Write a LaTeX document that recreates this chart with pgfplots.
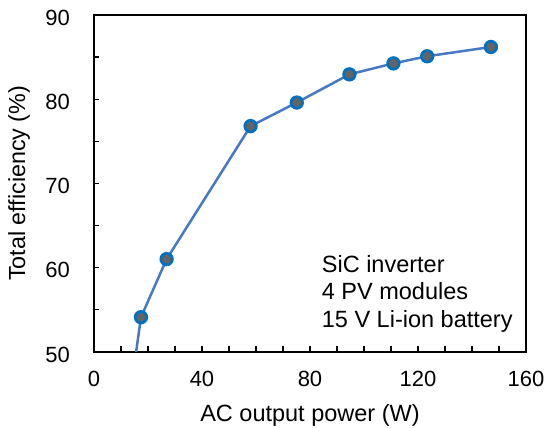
\documentclass[border=0pt]{standalone}
\usepackage{fontspec}
\setmainfont{Liberation Sans}
\usepackage{pgfplots}
\pgfplotsset{compat=1.18}
\definecolor{lineblue}{RGB}{70,120,195}
\definecolor{markblue}{RGB}{0,112,192}
\definecolor{markgray}{RGB}{100,100,100}
\begin{document}
\begin{tikzpicture}
\useasboundingbox (-94bp,-76.3bp) rectangle (450bp,351.7bp);
\begin{axis}[
  at={(0,0)}, anchor=south west,
  scale only axis, width=432bp, height=336.7bp,
  xmin=0, xmax=160, ymin=50, ymax=90,
  axis line style={line width=1.7bp, black},
  xtick={0,40,...,160}, minor xtick={10,20,...,150},
  ytick={50,60,...,90}, minor ytick={55,65,75,85},
  tick pos=left, tick align=inside,
  major tick length=5.5bp, minor tick length=5.5bp,
  every tick/.style={black, line width=1.3bp},
  ticklabel style={font=\fontsize{22bp}{26bp}\selectfont, /pgf/number format/assume math mode=true},
  xticklabel style={yshift=-16bp},
  yticklabel style={xshift=-20.7bp, yshift=-2.8bp},
  xlabel={AC output power (W)},
  xlabel style={at={(axis description cs:0.5,-0.2079)}, anchor=base, font=\fontsize{23.5bp}{27bp}\selectfont},
  ylabel={Total efficiency (\%)},
  ylabel style={at={(axis description cs:-0.1597,0.5)}, anchor=base, font=\fontsize{23.3bp}{27bp}\selectfont},
]
\addplot[lineblue, line width=2.5bp, mark=none] coordinates {
  (14,46.3) (17.4,54.1) (26.9,61.0) (58.0,76.8) (75.1,79.6) (94.6,82.95) (110.9,84.25) (123.4,85.1) (147,86.2)
};
\addplot[only marks, mark=*, mark size=5.8bp, mark options={draw=markblue, fill=markgray, line width=2.7bp}] coordinates {
  (17.4,54.1) (26.9,61.0) (58.0,76.8) (75.1,79.6) (94.6,82.95) (110.9,84.25) (123.4,85.1) (147,86.2)
};
\node[anchor=north west, inner sep=0pt, align=left, font=\fontsize{23.5bp}{27.5bp}\selectfont] at (axis cs:84.33,61.49) {SiC inverter\\4 PV modules\\15 V Li-ion battery};
\end{axis}
\end{tikzpicture}
\end{document}
